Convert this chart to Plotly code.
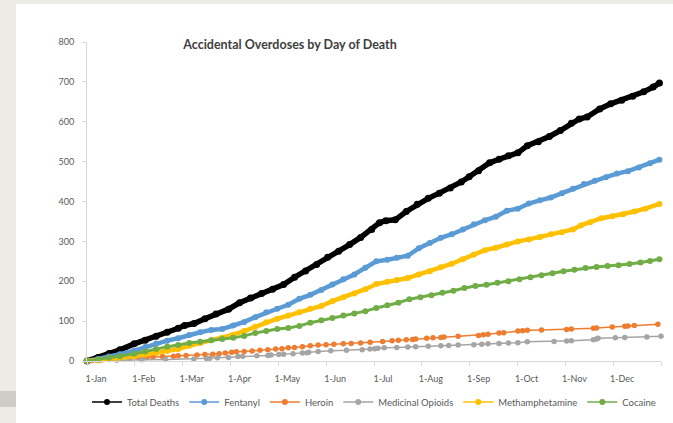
import plotly.graph_objects as go

# ---------------- data (day of year, cumulative deaths) ----------------
MONTH_LABELS = ["1-Jan", "1-Feb", "1-Mar", "1-Apr", "1-May", "1-Jun",
                "1-Jul", "1-Aug", "1-Sep", "1-Oct", "1-Nov", "1-Dec"]

TOTAL_DAYS = [0, 7, 14, 21, 30, 37, 44, 51, 58, 62, 68, 75, 82, 90, 97, 104, 111, 118, 125, 132,
              139, 146, 153, 160, 167, 174, 181, 186, 190, 196, 203, 210, 217, 224, 231, 238, 243,
              249, 256, 262, 268, 274, 280, 287, 294, 301, 308, 313, 318, 326, 333, 340, 347, 354,
              360, 364]
TOTAL = [0, 9, 19, 28, 43, 52, 62, 72, 82, 89, 94, 106, 118, 130, 146, 158, 169, 180, 192, 210,
         226, 242, 260, 275, 292, 310, 330, 347, 352, 354, 375, 393, 408, 421, 434, 449, 462,
         477, 497, 506, 515, 522, 540, 550, 563, 578, 596, 607, 612, 632, 645, 654, 664, 675,
         687, 697]

FENT_DAYS = [0, 7, 14, 21, 30, 37, 44, 51, 58, 65, 72, 79, 86, 93, 100, 107, 114, 121, 128, 135,
             142, 149, 156, 163, 170, 177, 184, 191, 197, 204, 211, 218, 225, 232, 239, 246, 253,
             260, 267, 274, 281, 288, 295, 302, 309, 316, 323, 330, 337, 344, 351, 358, 364]
FENT = [0, 5, 11, 17, 26, 35, 44, 51, 57, 65, 72, 78, 80, 89, 98, 110, 122, 131, 141, 156,
        166, 178, 192, 205, 217, 234, 250, 254, 259, 264, 283, 296, 309, 318, 330, 343, 353,
        362, 377, 382, 395, 403, 410, 421, 432, 444, 452, 461, 470, 476, 485, 496, 505]

HEROIN_DAYS = [0, 3, 6, 10, 14, 18, 22, 27, 33, 38, 42, 48, 55, 58, 63, 70, 75, 80, 84, 88,
               92, 95, 100, 105, 110, 115, 120, 124, 128, 132, 137, 142, 147, 152, 157, 163, 168,
               174, 180, 188, 194, 198, 203, 207, 209, 216, 220, 225, 227, 236, 249, 252, 255,
               262, 265, 274, 277, 280, 289, 305, 308, 322, 324, 334, 342, 344, 348, 363]
HEROIN = [0, 1, 2, 3, 4, 5, 6, 7, 8, 9, 10, 11, 12, 13, 14, 15, 16, 17, 18, 20,
          22, 23, 24, 25, 27, 28, 30, 31, 33, 34, 36, 38, 40, 41, 42, 43, 44,
          45, 47, 49, 51, 52, 53, 54, 55, 57, 58, 59, 60, 62, 64, 66, 67,
          70, 71, 75, 76, 77, 78, 79, 80, 82, 83, 85, 87, 88, 89, 92]

MED_DAYS = [0, 8, 19, 35, 50, 68, 76, 78, 83, 90, 96, 99, 108, 115, 117, 122, 125, 131, 137, 140,
            141, 147, 155, 165, 175, 180, 183, 185, 189, 197, 204, 209, 217, 225, 230, 236, 246,
            251, 255, 262, 268, 274, 280, 297, 305, 308, 322, 324, 325, 336, 342, 356, 365]
MED = [0, 1, 2, 3, 4, 5, 6, 7, 8, 9, 11, 12, 13, 14, 15, 16, 17, 18, 20, 21,
       22, 24, 26, 27, 28, 30, 31, 32, 33, 34, 35, 36, 37, 38, 39, 40, 41,
       42, 43, 44, 45, 46, 48, 49, 50, 51, 53, 55, 57, 58, 59, 60, 62]

METH_DAYS = [0, 7, 14, 21, 30, 37, 44, 51, 58, 65, 72, 79, 86, 93, 100, 107, 114, 121, 128, 135,
             142, 149, 156, 163, 170, 177, 184, 191, 197, 204, 211, 218, 225, 232, 239, 246, 253,
             260, 267, 274, 281, 288, 295, 302, 309, 314, 320, 327, 334, 341, 348, 355, 364]
METH = [0, 2, 5, 8, 12, 16, 20, 25, 30, 38, 45, 52, 58, 66, 75, 86, 97, 106, 114, 122,
        131, 138, 150, 160, 169, 180, 193, 199, 203, 208, 217, 225, 235, 244, 255, 267, 278,
        284, 292, 300, 305, 311, 318, 323, 330, 340, 348, 358, 363, 368, 375, 382, 394]

COC_DAYS = [0, 7, 14, 21, 30, 37, 44, 51, 58, 65, 72, 79, 86, 93, 100, 107, 114, 121, 128, 135,
            142, 149, 156, 163, 170, 177, 184, 191, 198, 205, 212, 219, 226, 233, 240, 247, 254,
            261, 268, 275, 282, 289, 296, 303, 310, 317, 324, 331, 338, 345, 352, 358, 364]
COC = [0, 4, 8, 12, 18, 24, 30, 36, 40, 45, 48, 52, 55, 58, 63, 70, 75, 80, 83, 88,
       96, 102, 108, 114, 119, 125, 133, 140, 146, 155, 160, 165, 171, 176, 183, 188, 191,
       196, 200, 205, 210, 215, 220, 225, 229, 233, 236, 238, 240, 243, 247, 251, 255]

# ---------------- layout geometry ----------------
W, H = 673, 423
ML, MR, MT, MB = 87, 12, 42, 62
PW, PH = W - ML - MR, H - MT - MB


def px_x(p):
    return (p - ML) / PW


def px_y(p):
    return (H - MB - p) / PH


FONT = "Lato, 'Open Sans', sans-serif"
GREY_TXT = "#595959"
AXIS_GREY = "#D9D9D9"

series = [
    ("Total Deaths", TOTAL_DAYS, TOTAL, "#000000", 5.5, 7),
    ("Fentanyl", FENT_DAYS, FENT, "#5B9BD5", 4.5, 6),
    ("Heroin", HEROIN_DAYS, HEROIN, "#ED7D31", 1.5, 5.5),
    ("Medicinal Opioids", MED_DAYS, MED, "#A5A5A5", 1.5, 5.5),
    ("Methamphetamine", METH_DAYS, METH, "#FFC000", 4.5, 6),
    ("Cocaine", COC_DAYS, COC, "#70AD47", 3, 6),
]

fig = go.Figure()
for name, xs, ys, col, lw, ms in series:
    fig.add_trace(go.Scatter(
        x=xs, y=ys, mode="lines+markers", name=name, showlegend=False,
        line=dict(color=col, width=lw), marker=dict(color=col, size=ms),
        cliponaxis=False, hoverinfo="skip"))
# legend entries (thin line + marker like the original)
for name, xs, ys, col, lw, ms in series:
    fig.add_trace(go.Scatter(
        x=[None], y=[None], mode="lines+markers", name=name,
        line=dict(color=col, width=1.5), marker=dict(color=col, size=6)))

tickvals = [k * 365 / 12 for k in range(13)]
ticktext = MONTH_LABELS + [""]

fig.update_layout(
    width=W, height=H,
    margin=dict(l=ML, r=MR, t=MT, b=MB, autoexpand=False),
    paper_bgcolor="white", plot_bgcolor="white",
    font=dict(family=FONT, color=GREY_TXT, size=9),
    title=dict(text="<b>Accidental Overdoses by Day of Death</b>",
               font=dict(family=FONT, size=12.5, color="#404040"),
               xref="paper", x=px_x(290), xanchor="center",
               yref="container", y=1 - 45 / H, yanchor="middle"),
    xaxis=dict(range=[0, 365], tickvals=tickvals, ticktext=ticktext,
               ticks="outside", ticklen=4, tickcolor=AXIS_GREY,
               showline=True, linecolor=AXIS_GREY, linewidth=1,
               showgrid=False, zeroline=False,
               tickfont=dict(size=9, color=GREY_TXT, family=FONT),
               ticklabelshift=9, ticklabelstandoff=5),
    yaxis=dict(range=[0, 800], dtick=100, tick0=0,
               ticks="outside", ticklen=4, tickcolor=AXIS_GREY,
               showline=True, linecolor=AXIS_GREY, linewidth=1,
               showgrid=False, zeroline=False,
               tickfont=dict(size=9, color=GREY_TXT, family=FONT),
               ticklabelstandoff=6),
    legend=dict(orientation="h", x=0.5, xanchor="center",
                y=px_y(402), yanchor="middle",
                font=dict(size=9.5, color=GREY_TXT, family=FONT),
                itemwidth=30, bgcolor="rgba(0,0,0,0)"),
    showlegend=True,
    shapes=[
        dict(type="rect", xref="paper", yref="paper", layer="below",
             x0=px_x(0), x1=px_x(W), y0=px_y(0), y1=px_y(4),
             fillcolor="#EDEBE5", line=dict(width=0)),
        dict(type="rect", xref="paper", yref="paper", layer="below",
             x0=px_x(0), x1=px_x(16), y0=px_y(0), y1=px_y(H),
             fillcolor="#EDEBE5", line=dict(width=0)),
        dict(type="rect", xref="paper", yref="paper", layer="below",
             x0=px_x(0), x1=px_x(16), y0=px_y(391), y1=px_y(407),
             fillcolor="#CFCCC5", line=dict(width=0)),
    ],
)

fig.write_html(
    "out.html",
    config={"displayModeBar": False, "staticPlot": True},
    post_script="document.body.style.margin='0';document.body.style.overflow='hidden';")
